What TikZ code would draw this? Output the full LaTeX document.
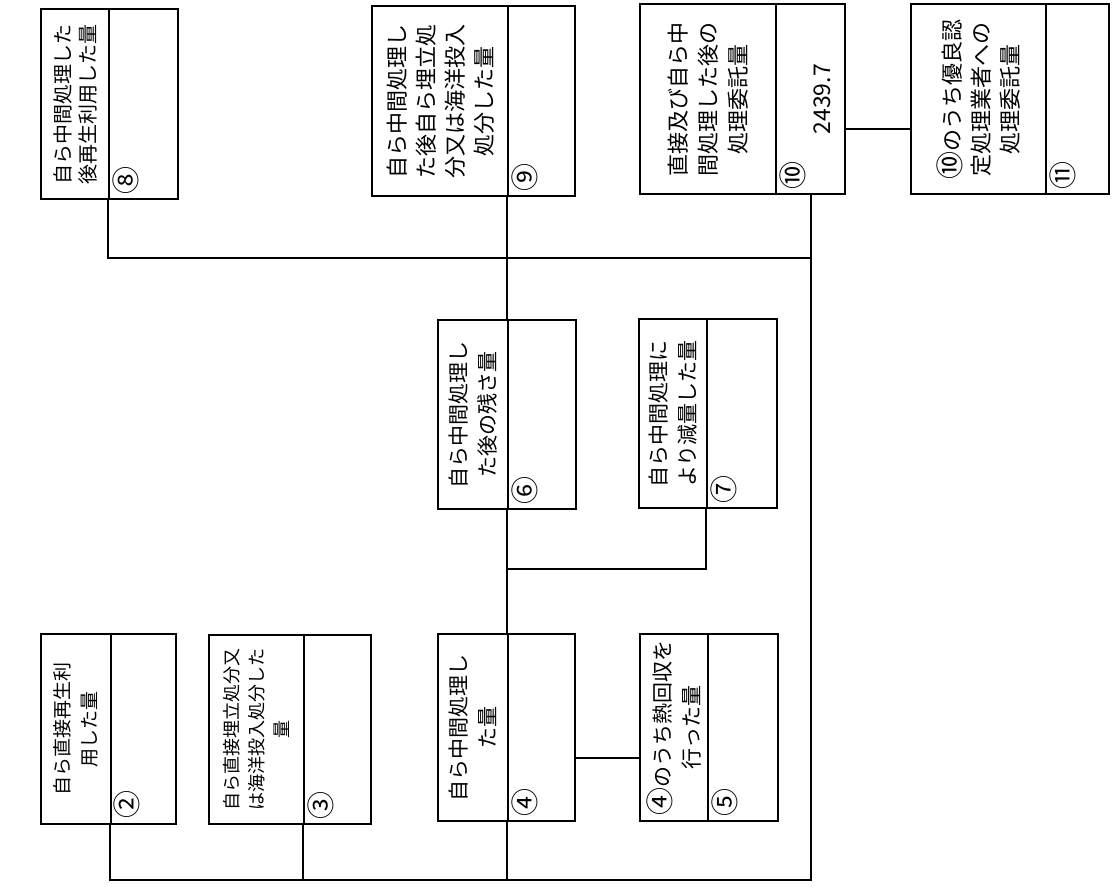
\documentclass[tikz,border=0pt]{standalone}
\usepackage{fontspec}
\newfontfamily\jpfont{Noto Sans CJK JP}
\newcommand\circnum[1]{{\fontsize{28}{28}\selectfont #1}}
\tikzset{
  cell/.style={draw, line width=2.4pt, inner sep=0pt, anchor=north west},
  lbl/.style={rotate=90, align=center, inner sep=0pt, font=\jpfont\fontsize{21}{29}\selectfont},
  num/.style={rotate=90, inner sep=0pt, font=\jpfont\fontsize{28}{28}\selectfont},
  link/.style={line width=2.2pt}
}
\begin{document}
\begin{tikzpicture}[x=1pt,y=-1pt]
  \useasboundingbox[fill=white] (0,0) rectangle (1112,889);
  % top row
  \node[cell, minimum width=68pt, minimum height=190pt] (t8) at (40,8) {};
  \node[cell, minimum width=69pt, minimum height=190pt] (v8) at (108,8) {};
  \node[cell, minimum width=136pt, minimum height=190pt] (t9) at (371,5) {};
  \node[cell, minimum width=67pt, minimum height=190pt] (v9) at (507,5) {};
  \node[cell, minimum width=136pt, minimum height=190pt] (t10) at (639,3) {};
  \node[cell, minimum width=69pt, minimum height=190pt] (v10) at (775,3) {};
  \node[cell, minimum width=135pt, minimum height=190pt] (t11) at (910,3) {};
  \node[cell, minimum width=63pt, minimum height=190pt] (v11) at (1045,3) {};
  % middle row
  \node[cell, minimum width=70pt, minimum height=189pt] (t6) at (437,319) {};
  \node[cell, minimum width=68pt, minimum height=189pt] (v6) at (507,319) {};
  \node[cell, minimum width=68pt, minimum height=189pt] (t7) at (638,318) {};
  \node[cell, minimum width=70pt, minimum height=189pt] (v7) at (706,318) {};
  % bottom row
  \node[cell, minimum width=70pt, minimum height=190pt] (t2) at (40,633) {};
  \node[cell, minimum width=65pt, minimum height=190pt] (v2) at (110,633) {};
  \node[cell, minimum width=95pt, minimum height=189pt] (t3) at (208,634) {};
  \node[cell, minimum width=67pt, minimum height=189pt] (v3) at (303,634) {};
  \node[cell, minimum width=70pt, minimum height=187pt] (t4) at (437,633) {};
  \node[cell, minimum width=67pt, minimum height=187pt] (v4) at (507,633) {};
  \node[cell, minimum width=68pt, minimum height=187pt] (t5) at (639,633) {};
  \node[cell, minimum width=70pt, minimum height=187pt] (v5) at (707,633) {};
  % labels
  \node[lbl, font=\jpfont\fontsize{20}{25}\selectfont] (l8) at (t8) {自ら中間処理した\\後再生利用した量};
  \node[lbl, font=\jpfont\fontsize{22}{29}\selectfont] (l9) at (t9) {自ら中間処理し\\た後自ら埋立処\\分又は海洋投入\\処分した量};
  \node[lbl, font=\jpfont\fontsize{22}{30}\selectfont] (l10) at (t10) {直接及び自ら中\\間処理した後の\\処理委託量};
  \node[lbl, font=\jpfont\fontsize{22}{29}\selectfont] (l11) at (t11) {\circnum{⑩}のうち優良認\\定処理業者への\\処理委託量};
  \node[lbl] (l6) at (t6) {自ら中間処理し\\た後の残さ量};
  \node[lbl] (l7) at (t7) {自ら中間処理に\\より減量した量};
  \node[lbl, font=\jpfont\fontsize{19}{27}\selectfont] (l2) at (t2) {自ら直接再生利\\用した量};
  \node[lbl, font=\jpfont\fontsize{18}{25}\selectfont] (l3) at (t3) {自ら直接埋立処分又\\は海洋投入処分した\\量};
  \node[lbl] (l4) at (t4) {自ら中間処理し\\た量};
  \node[lbl] (l5) at (t5) {\circnum{④}のうち熱回収を\\行った量};
  % numbers
  \node[num] (n8) at ([xshift=18pt,yshift=20pt]v8.south west) {⑧};
  \node[num] (n9) at ([xshift=18pt,yshift=20pt]v9.south west) {⑨};
  \node[num] (n10) at ([xshift=18pt,yshift=20pt]v10.south west) {⑩};
  \node[num] (n11) at ([xshift=18pt,yshift=20pt]v11.south west) {⑪};
  \node[num] (n6) at ([xshift=18pt,yshift=20pt]v6.south west) {⑥};
  \node[num] (n7) at ([xshift=18pt,yshift=20pt]v7.south west) {⑦};
  \node[num] (n2) at ([xshift=17pt,yshift=21pt]v2.south west) {②};
  \node[num] (n3) at ([xshift=18pt,yshift=20pt]v3.south west) {③};
  \node[num] (n4) at ([xshift=18pt,yshift=20pt]v4.south west) {④};
  \node[num] (n5) at ([xshift=18pt,yshift=20pt]v5.south west) {⑤};
  \node[num, font=\jpfont\fontsize{23}{23}\selectfont] (q10) at ([xshift=12pt]v10.center) {2439.7};
  % connectors
  \draw[link] (v8.south west) |- (v10.south |- 0,258);
  \draw[link] (v10.south) -- (v10.south |- 0,880) -| (v2.south west);
  \draw[link] (v3.south west) -- (v3.south west |- 0,880);
  \draw[link] (v9.south west) -- (v6.north west);
  \draw[link] (v6.south west) -- (v4.north west);
  \draw[link] (v4.south west) -- (v4.south west |- 0,880);
  \draw[link] (v7.south west) |- (v6.south west |- 0,569);
  \draw[link] ([yshift=-30pt]v4.east) -- ([yshift=-30pt]t5.west);
  \draw[link] ([yshift=-30pt]v10.east) -- ([yshift=-30pt]t11.west);
\end{tikzpicture}
\end{document}
